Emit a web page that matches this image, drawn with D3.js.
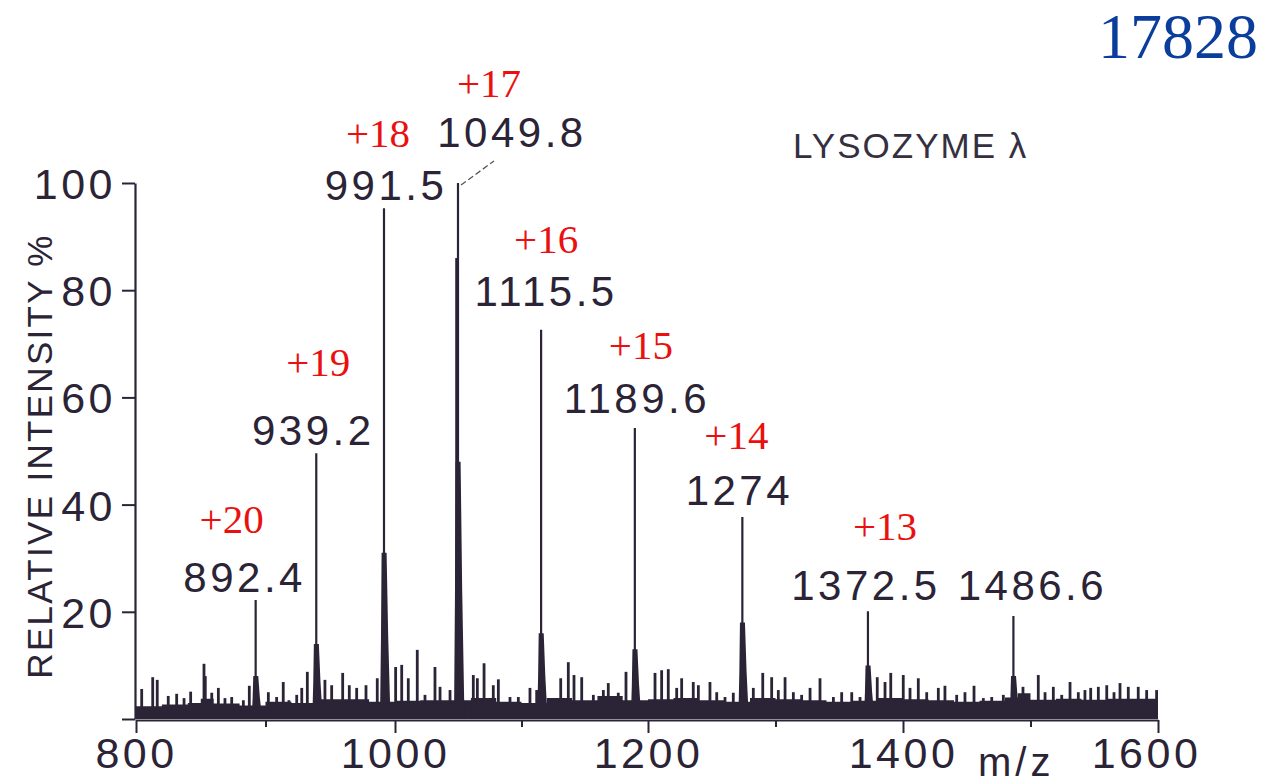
<!DOCTYPE html>
<html>
<head>
<meta charset="utf-8">
<script src="https://cdn.jsdelivr.net/npm/d3@7"></script>
<style>
  body { margin: 0; background: #ffffff; }
  svg { display: block; }
</style>
</head>
<body>
<svg id="chart" width="1266" height="783"></svg>
<script>
// ---- axis ticks ----
const xMajorTicks = [800, 1000, 1200, 1400, 1600];
const xMinorTicks = [900, 1100, 1300, 1500];
const yTicks = [0, 20, 40, 60, 80, 100];
const yTickLabels = ["", "20", "40", "60", "80", "100"];

// ---- labelled charge-state envelope of lysozyme ----
const peakMz        = [892.4, 939.2, 991.5, 1049.8, 1115.5, 1189.6, 1274, 1372.5, 1486.6];
const peakIntensity = [22.2, 49.6, 95.3, 100, 72.6, 54.3, 37.7, 20.1, 19.2];
const peakShoulder  = [8, 14, 31, 48, 16, 13, 18, 10, 8];
const peakLabels    = ["892.4", "939.2", "991.5", "1049.8", "1115.5", "1189.6", "1274", "1372.5", "1486.6"];
const chargeLabels  = ["+20", "+19", "+18", "+17", "+16", "+15", "+14", "+13", ""];

// satellite line on the low-mass side of the +17 ion
const satelliteMz = [1048.4];
const satelliteIntensity = [86];

// small spikes riding on the baseline
const noiseMz = [
  804.4, 812.9, 816.4, 824.9, 831.4, 837.1, 842.2, 852.5, 853.5, 858.5, 863.6, 868.7, 873.9, 882.9, 887.5,
  902.2, 908.6, 913.7, 918.1, 924.1, 928.0, 932.3, 945.9, 951.1, 959.6, 964.7, 970.4, 977.6, 986.3,
  1000.5, 1005.3, 1010.5, 1017.6, 1023.7, 1031.6, 1035.6, 1043.5, 1061.9, 1065.1, 1070.4, 1077.7, 1081.7,
  1090.9, 1097.5, 1106.7, 1112.0, 1131.0, 1137.0, 1141.5, 1147.6, 1156.8, 1164.7, 1168.6, 1176.5, 1182.6,
  1205.5, 1210.7, 1215.9, 1222.5, 1226.4, 1235.5, 1239.5, 1248.6, 1253.9, 1260.4, 1266.9, 1282.6,
  1290.0, 1297.0, 1302.2, 1307.5, 1314.0, 1320.5, 1327.1, 1334.9, 1345.4, 1351.9, 1359.8, 1366.3,
  1379.8, 1385.9, 1390.4, 1400.2, 1405.5, 1412.0, 1418.6, 1427.7, 1432.9, 1442.1, 1448.6,
  1455.7, 1463.0, 1469.6, 1478.7, 1494.1, 1506.1, 1511.4, 1517.9, 1524.5, 1531.0, 1537.5, 1542.7,
  1547.2, 1553.2, 1559.8, 1565.5, 1570.2, 1576.7, 1584.5, 1591.1, 1598.9
];
const noiseIntensity = [
  5.6, 7.8, 7.3, 4.3, 4.7, 3.9, 5.1, 10.3, 8.0, 4.9, 5.8, 3.9, 4.1, 3.5, 6.2,
  5.0, 4.1, 6.9, 3.5, 4.5, 5.8, 8.8, 7.3, 6.3, 8.6, 6.3, 5.8, 6.3, 7.6,
  9.7, 10.1, 7.6, 12.9, 4.5, 9.7, 6.0, 5.4, 8.2, 7.6, 10.4, 6.3, 7.4,
  4.1, 4.1, 5.8, 5.4, 7.6, 10.6, 8.2, 7.8, 4.5, 5.4, 6.7, 4.9, 8.8,
  8.6, 9.1, 9.3, 5.8, 7.6, 6.9, 6.3, 6.9, 5.0, 4.1, 4.9, 5.8,
  8.6, 7.8, 5.4, 7.8, 5.0, 4.5, 5.8, 7.6, 4.1, 5.0, 5.0, 4.1,
  7.8, 6.9, 8.6, 8.2, 5.8, 7.6, 5.0, 5.8, 6.2, 4.5, 5.0,
  6.2, 3.9, 4.1, 4.5, 6.0, 8.2, 5.0, 6.0, 4.5, 6.9, 5.0, 5.4,
  5.8, 6.0, 6.3, 5.0, 6.7, 6.0, 6.0, 5.4, 5.4
];

// height of the continuous chemical-noise floor
const floorMz = [
  800, 820, 840, 850, 860, 880, 900, 920, 940, 960, 980, 1000, 1020, 1040, 1060, 1080, 1100,
  1120, 1140, 1160, 1180, 1200, 1220, 1240, 1260, 1280, 1300, 1320, 1340, 1360, 1380, 1400,
  1420, 1440, 1460, 1480, 1490, 1500, 1520, 1540, 1560, 1580, 1600
];
const floorLevel = [
  2.4, 2.7, 3.0, 3.8, 2.9, 2.5, 3.2, 3.0, 3.7, 3.7, 3.2, 3.4, 3.5, 3.5, 3.9, 3.2, 3.0,
  3.9, 3.5, 4.3, 3.5, 3.7, 3.9, 3.5, 3.2, 3.9, 3.7, 3.5, 3.2, 3.4, 3.9, 3.7,
  3.5, 3.2, 3.4, 4.0, 4.8, 3.6, 3.8, 3.6, 3.8, 3.8, 4.0
];

// ---- label placement (pixel nudges) ----
const labelDx  = [-11, -3, 2, 54, 5, 2, -3, -2, 19];
const labelDy  = [-8, -8, -8, -36, -24, -15, -12, -11, -16];
const chargeDx = [-24, 2, -6, 31, 5, 6, -6, 17, 0];
const chargeDy = [-59, -69, -53, -50, -53, -54, -56, -60, 0];

const INK = "#2b2436";
const RED = "#ea1010";
const BLUE = "#0b3d9c";
const SANS = "'Liberation Sans', Arial, Helvetica, sans-serif";
const SERIF = "'Liberation Serif', 'Times New Roman', serif";

const svg = d3.select("#chart");

// piecewise m/z scale, one segment per labelled interval of the axis
const x = d3.scaleLinear()
  .domain([800, 1000, 1200, 1400, 1600])
  .range([136, 395, 648, 903, 1158]);
const y = d3.scaleLinear().domain([0, 100]).range([719, 183]);

// ---- spectrum ----
const spec = svg.append("g").attr("fill", INK);

// noise floor
const floorData = floorMz.map((m, i) => ({ m, v: floorLevel[i] }));
spec.append("path")
  .datum(floorData)
  .attr("d", d3.area()
    .x(d => x(d.m))
    .y0(y(0))
    .y1(d => y(d.v))
    .curve(d3.curveStepAfter));

// baseline spikes
spec.selectAll("rect.noise")
  .data(noiseMz.map((m, i) => ({ m, v: noiseIntensity[i] })))
  .join("rect")
  .attr("class", "noise")
  .attr("x", d => x(d.m) - 1.4)
  .attr("width", 2.8)
  .attr("y", d => y(d.v))
  .attr("height", d => y(0) - y(d.v));

// satellite line
spec.selectAll("rect.sat")
  .data(satelliteMz.map((m, i) => ({ m, v: satelliteIntensity[i] })))
  .join("rect")
  .attr("class", "sat")
  .attr("x", d => x(d.m) - 1)
  .attr("width", 2)
  .attr("y", d => y(d.v))
  .attr("height", d => y(0) - y(d.v));

// main peaks: thin apex line over a broadened, tailing base
const peaks = peakMz.map((m, i) => ({
  m, v: peakIntensity[i], s: peakShoulder[i], label: peakLabels[i], charge: chargeLabels[i],
  ldx: labelDx[i], ldy: labelDy[i], cdx: chargeDx[i], cdy: chargeDy[i]
}));

spec.selectAll("path.peak")
  .data(peaks)
  .join("path")
  .attr("class", "peak")
  .attr("d", d => {
    const cx = x(d.m), y0 = y(0), yt = y(d.v), ys = y(d.s), yh = y(d.s * 0.5);
    return d3.line()([
      [cx - 4, y0], [cx - 3, yh], [cx - 2.4, ys], [cx - 1.1, ys], [cx - 1.1, yt],
      [cx + 1.1, yt], [cx + 1.1, ys], [cx + 2.6, ys], [cx + 4.2, yh], [cx + 6.5, y0]
    ]) + "Z";
  });

// ---- axes ----
const yAxis = svg.append("g")
  .attr("transform", `translate(${x(800) - 1},0)`)
  .call(d3.axisLeft(y).tickValues(yTicks).tickSize(13).tickSizeOuter(0).tickPadding(6)
    .tickFormat((d, i) => yTickLabels[i]));

const xAxis = svg.append("g")
  .attr("transform", `translate(0,${y(0) + 1})`)
  .call(d3.axisBottom(x).tickValues(xMajorTicks).tickSize(13).tickSizeOuter(0).tickPadding(4)
    .tickFormat(d3.format("d")));

const xMinor = svg.append("g")
  .attr("transform", `translate(0,${y(0) + 1})`)
  .call(d3.axisBottom(x).tickValues(xMinorTicks).tickSize(7).tickSizeOuter(0).tickFormat(""));
xMinor.select(".domain").remove();

[yAxis, xAxis, xMinor].forEach(g => {
  g.select(".domain").attr("stroke", INK).attr("stroke-width", 2.2);
  g.selectAll(".tick line").attr("stroke", INK).attr("stroke-width", 2);
  g.selectAll(".tick text")
    .attr("fill", INK)
    .style("font-family", SANS)
    .style("font-size", "43px")
    .style("letter-spacing", "3.5px");
});
yAxis.selectAll(".tick text").attr("dy", "0.36em");
// last m/z label sits slightly inboard of its tick
xAxis.selectAll(".tick text").filter(d => d === 1600).attr("dx", -12);

// axis titles
svg.append("text")
  .attr("x", 978).attr("y", 776)
  .attr("fill", INK)
  .style("font-family", SANS).style("font-size", "40px").style("letter-spacing", "4px")
  .text("m/z");

svg.append("text")
  .attr("transform", "translate(52,456) rotate(-90)")
  .attr("text-anchor", "middle")
  .attr("fill", INK)
  .style("font-family", SANS).style("font-size", "35px").style("letter-spacing", "2.3px")
  .text("RELATIVE INTENSITY %");

// ---- peak annotations ----
const ann = svg.append("g");

ann.selectAll("text.mz")
  .data(peaks)
  .join("text")
  .attr("class", "mz")
  .attr("x", d => x(d.m) + d.ldx)
  .attr("y", d => y(d.v) + d.ldy)
  .attr("text-anchor", "middle")
  .attr("fill", INK)
  .style("font-family", SANS).style("font-size", "42px").style("letter-spacing", "3.5px")
  .text(d => d.label);

ann.selectAll("text.charge")
  .data(peaks.filter(d => d.charge))
  .join("text")
  .attr("class", "charge")
  .attr("x", d => x(d.m) + d.cdx)
  .attr("y", d => y(d.v) + d.ldy + d.cdy)
  .attr("text-anchor", "middle")
  .attr("fill", RED)
  .style("font-family", SERIF).style("font-size", "41px")
  .text(d => d.charge);

// dashed leader from the base peak to its label
const base = peaks[3];
ann.append("line")
  .attr("x1", x(base.m) + 3).attr("y1", y(base.v) + 2)
  .attr("x2", x(base.m) + 36).attr("y2", y(base.v) - 22)
  .attr("stroke", "#555")
  .attr("stroke-width", 1.3)
  .attr("stroke-dasharray", "6,3");

// sample name and molecular mass
svg.append("text")
  .attr("x", 793).attr("y", 158)
  .attr("fill", "#35303f")
  .style("font-family", SANS).style("font-size", "35px").style("letter-spacing", "2px")
  .text("LYSOZYME λ");

svg.append("text")
  .attr("x", 1258).attr("y", 58)
  .attr("text-anchor", "end")
  .attr("fill", BLUE)
  .style("font-family", SERIF).style("font-size", "64px")
  .text("17828");
</script>
</body>
</html>
